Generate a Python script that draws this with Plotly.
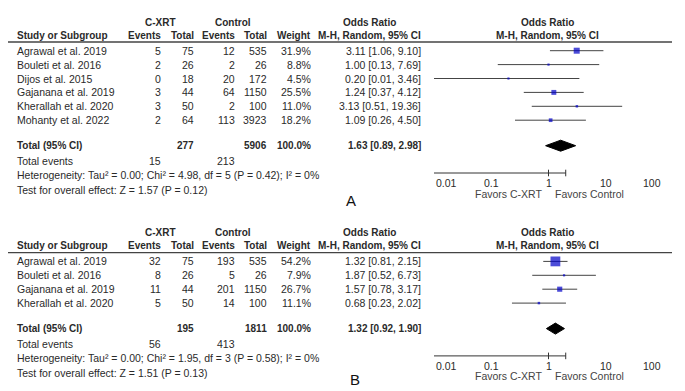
import math
import plotly.graph_objects as go

W, H = 685, 391
OFF = 8  # default page body margin in the browser

# ---------------- Data ----------------
studies_A = ["Agrawal et al. 2019", "Bouleti et al. 2016", "Dijos et al. 2015",
             "Gajanana et al. 2019", "Kherallah et al. 2020", "Mohanty et al. 2022"]
cxrt_events_A = [5, 2, 0, 3, 3, 2]
cxrt_total_A = [75, 26, 18, 44, 50, 64]
ctrl_events_A = [12, 2, 20, 64, 2, 113]
ctrl_total_A = [535, 26, 172, 1150, 100, 3923]
weight_A = [31.9, 8.8, 4.5, 25.5, 11.0, 18.2]
or_A = [3.11, 1.00, 0.20, 1.24, 3.13, 1.09]
lo_A = [1.06, 0.13, 0.01, 0.37, 0.51, 0.26]
hi_A = [9.10, 7.69, 3.46, 4.12, 19.36, 4.50]
total_A = {"cxrt_total": 277, "ctrl_total": 5906, "or": 1.63, "lo": 0.89, "hi": 2.98,
           "cxrt_events": 15, "ctrl_events": 213}
het_A = "Heterogeneity: Tau² = 0.00; Chi² = 4.98, df = 5 (P = 0.42); I² = 0%"
test_A = "Test for overall effect: Z = 1.57 (P = 0.12)"

studies_B = ["Agrawal et al. 2019", "Bouleti et al. 2016", "Gajanana et al. 2019",
             "Kherallah et al. 2020"]
cxrt_events_B = [32, 8, 11, 5]
cxrt_total_B = [75, 26, 44, 50]
ctrl_events_B = [193, 5, 201, 14]
ctrl_total_B = [535, 26, 1150, 100]
weight_B = [54.2, 7.9, 26.7, 11.1]
or_B = [1.32, 1.87, 1.57, 0.68]
lo_B = [0.81, 0.52, 0.78, 0.23]
hi_B = [2.15, 6.73, 3.17, 2.02]
total_B = {"cxrt_total": 195, "ctrl_total": 1811, "or": 1.32, "lo": 0.92, "hi": 1.90,
           "cxrt_events": 56, "ctrl_events": 413}
het_B = "Heterogeneity: Tau² = 0.00; Chi² = 1.95, df = 3 (P = 0.58); I² = 0%"
test_B = "Test for overall effect: Z = 1.51 (P = 0.13)"

tick_vals = [0.01, 0.1, 1, 10, 100]
tick_text = ["0.01", "0.1", "1", "10", "100"]

# ---------------- Styling ----------------
FONT = "Liberation Sans, Arial, sans-serif"
TXT = "#2a2a2a"
FS = 10.5
FSB = 10
BLUE = "#0000c8"

FW, FH = W - OFF, H - OFF

fig = go.Figure()
ann = []
shapes = []


def px(x):
    return (x - OFF) / FW


def lg(v):
    return math.log10(v)


def text(x, y, s, anchor="left", bold=False, size=None, color=TXT):
    ann.append(dict(x=px(x), y=y, xref="paper", yref="y",
                    text=f"<b>{s}</b>" if bold else s, showarrow=False,
                    xanchor=anchor, yanchor="middle",
                    font=dict(family=FONT, size=size or (FSB if bold else FS), color=color)))


COL_EV1, COL_TOT1, COL_EV2, COL_TOT2, COL_W, COL_OR = 163, 196, 237, 269, 313, 423


def panel(y0, studies, e1, t1, e2, t2, w, orv, lo, hi, tot, het, test, label, label_pos):
    yh1, yh2, yline = y0, y0 + 13, y0 + 20
    text(160, yh1, "C-XRT", "center", True)
    text(233, yh1, "Control", "center", True)
    text(369, yh1, "Odds Ratio", "center", True)
    text(547, yh1, "Odds Ratio", "center", True)
    text(15, yh2, "Study or Subgroup", "left", True)
    text(COL_EV1, yh2, "Events", "right", True)
    text(COL_TOT1, yh2, "Total", "right", True)
    text(COL_EV2, yh2, "Events", "right", True)
    text(COL_TOT2, yh2, "Total", "right", True)
    text(COL_W, yh2, "Weight", "right", True)
    text(COL_OR, yh2, "M-H, Random, 95% CI", "right", True)
    text(547, yh2, "M-H, Random, 95% CI", "center", True)
    shapes.append(dict(type="line", xref="paper", yref="y", x0=px(5), x1=px(672),
                       y0=yline, y1=yline, line=dict(color="#444", width=1.3)))
    rows = [yline + 8.7 + 13.9 * i for i in range(len(studies))]
    for i, yr in enumerate(rows):
        text(15, yr, studies[i])
        text(COL_EV1, yr, str(e1[i]), "right")
        text(COL_TOT1, yr, str(t1[i]), "right")
        text(COL_EV2, yr, str(e2[i]), "right")
        text(COL_TOT2, yr, str(t2[i]), "right")
        text(COL_W, yr, f"{w[i]:.1f}%", "right")
        text(COL_OR, yr, f"{orv[i]:.2f} [{lo[i]:.2f}, {hi[i]:.2f}]", "right")
        fig.add_trace(go.Scatter(x=[lo[i], hi[i]], y=[yr, yr], mode="lines",
                                 line=dict(color="#444", width=1), hoverinfo="skip",
                                 showlegend=False))
    fig.add_trace(go.Scatter(x=orv, y=rows, mode="markers",
                             marker=dict(symbol="square", color=BLUE,
                                         size=[max(2.2, 0.17 * v + 0.6) for v in w],
                                         line=dict(width=0)),
                             hoverinfo="skip", showlegend=False))
    ytot = rows[-1] + 25.5
    text(15, ytot, "Total (95% CI)", "left", True)
    text(COL_TOT1, ytot, str(tot["cxrt_total"]), "right", True)
    text(COL_TOT2, ytot, str(tot["ctrl_total"]), "right", True)
    text(COL_W, ytot, "100.0%", "right", True)
    text(COL_OR, ytot, f"{tot['or']:.2f} [{tot['lo']:.2f}, {tot['hi']:.2f}]", "right", True)
    fig.add_trace(go.Scatter(x=[tot["lo"], tot["or"], tot["hi"], tot["or"], tot["lo"]],
                             y=[ytot, ytot - 5.5, ytot, ytot + 5.5, ytot],
                             mode="lines", fill="toself", fillcolor="black",
                             line=dict(color="black", width=1), hoverinfo="skip",
                             showlegend=False))
    yev = ytot + 15.5
    text(15, yev, "Total events")
    text(COL_EV1, yev, str(tot["cxrt_events"]), "right")
    text(COL_EV2, yev, str(tot["ctrl_events"]), "right")
    text(15, yev + 14.2, het)
    text(15, yev + 28.4, test)
    yax = yev + 11.8
    shapes.append(dict(type="line", xref="x", yref="y", x0=lg(tick_vals[0]),
                       x1=lg(tick_vals[-1]), y0=yax, y1=yax,
                       line=dict(color="#333", width=1)))
    n = len(tick_vals)
    for k, (tv, tt) in enumerate(zip(tick_vals, tick_text)):
        shapes.append(dict(type="line", xref="x", yref="y", x0=lg(tv), x1=lg(tv),
                           y0=yax - 3.3, y1=yax + 3.3, line=dict(color="#333", width=1)))
        anchor = "left" if k == 0 else ("right" if k == n - 1 else "center")
        ann.append(dict(x=lg(tv), y=yax + 9.6, xref="x", yref="y", text=tt, showarrow=False,
                        xanchor=anchor, yanchor="middle",
                        font=dict(family=FONT, size=FS, color=TXT)))
    shapes.append(dict(type="line", xref="x", yref="y", x0=0, x1=0, y0=yline, y1=yax,
                       line=dict(color="#333", width=1)))
    ann.append(dict(x=0, y=yax + 20.5, xref="x", yref="y", text="Favors C-XRT",
                    showarrow=False, xanchor="right", xshift=-5, yanchor="middle",
                    font=dict(family=FONT, size=FS, color="#444")))
    ann.append(dict(x=0, y=yax + 20.5, xref="x", yref="y", text="Favors Control",
                    showarrow=False, xanchor="left", xshift=4, yanchor="middle",
                    font=dict(family=FONT, size=FS, color="#444")))
    text(label_pos[0], label_pos[1], label, "center", False, size=15, color="#111")


panel(22, studies_A, cxrt_events_A, cxrt_total_A, ctrl_events_A, ctrl_total_A, weight_A,
      or_A, lo_A, hi_A, total_A, het_A, test_A, "A", (351, 200))
panel(232.7, studies_B, cxrt_events_B, cxrt_total_B, ctrl_events_B, ctrl_total_B, weight_B,
      or_B, lo_B, hi_B, total_B, het_B, test_B, "B", (355, 379))

fig.update_layout(
    width=FW, height=FH, margin=dict(l=0, r=0, t=0, b=0),
    paper_bgcolor="white", plot_bgcolor="white",
    xaxis=dict(type="log", range=[-2, 2], domain=[px(434), px(663)], visible=False),
    yaxis=dict(range=[H, OFF], domain=[0, 1], visible=False),
    annotations=ann, shapes=shapes, showlegend=False,
)

fig.write_html("out.html")
